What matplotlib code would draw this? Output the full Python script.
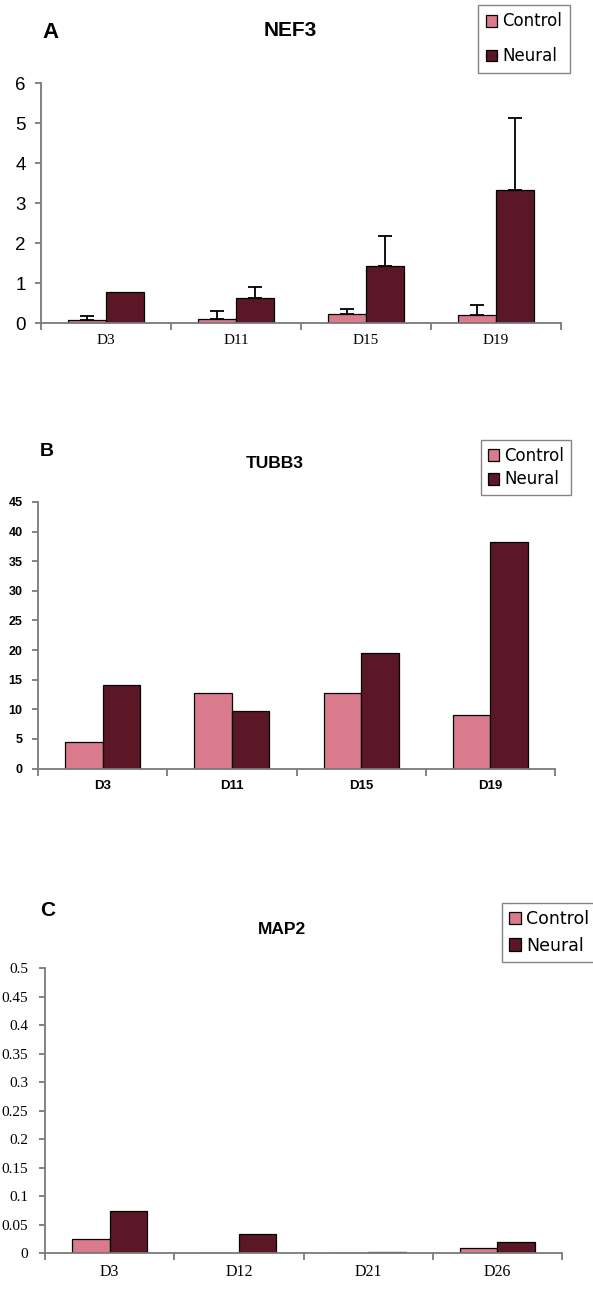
import matplotlib
matplotlib.use("Agg")
import matplotlib.pyplot as plt
import numpy as np

# NEF3 relative expression (mean and upper error)
nef3_days = ["D3", "D11", "D15", "D19"]
nef3_control = [0.08, 0.11, 0.22, 0.21]
nef3_neural = [0.78, 0.64, 1.44, 3.33]
nef3_control_err = [0.10, 0.20, 0.13, 0.25]
nef3_neural_err = [0.0, 0.26, 0.74, 1.79]

# TUBB3 relative expression
tubb3_days = ["D3", "D11", "D15", "D19"]
tubb3_control = [4.5, 12.8, 12.8, 9.0]
tubb3_neural = [14.1, 9.7, 19.5, 38.3]

# MAP2 relative expression
map2_days = ["D3", "D12", "D21", "D26"]
map2_control = [0.025, 0.0, 0.0, 0.009]
map2_neural = [0.074, 0.034, 0.003, 0.019]

CONTROL = "#d97a8d"
NEURAL = "#5c1726"
AXIS = "#7a7a7a"

W, H = 593, 1289
fig = plt.figure(figsize=(W / 100, H / 100), dpi=100)


def px_axes(x0, y0, x1, y1):
    # axes box given in pixel coords (top-left origin)
    return fig.add_axes([x0 / W, 1 - y1 / H, (x1 - x0) / W, (y1 - y0) / H])


def up_errors(ax, xs, tops, errs):
    # one-sided (upper) error bars, skipped where there is none
    for xi, top, e in zip(xs, tops, errs):
        if e > 0:
            ax.errorbar(xi, top, yerr=[[0], [e]], fmt="none", ecolor="black",
                        elinewidth=1.3, capsize=5, capthick=1.3)


def bar_panel(ax, days, control, neural, ymax, yticks, tick_font, xtick_font,
              control_err=None, neural_err=None):
    x = np.arange(len(days))
    w = 0.29
    bc = ax.bar(x - w / 2, control, w, color=CONTROL, edgecolor="black",
                linewidth=0.9, label="Control")
    bn = ax.bar(x + w / 2, neural, w, color=NEURAL, edgecolor="black",
                linewidth=0.9, label="Neural")
    if control_err is not None:
        up_errors(ax, x - w / 2, control, control_err)
    if neural_err is not None:
        up_errors(ax, x + w / 2, neural, neural_err)
    ax.set_xlim(-0.5, len(days) - 0.5)
    ax.set_ylim(0, ymax)
    ax.set_yticks(yticks)
    for s in ["top", "right"]:
        ax.spines[s].set_visible(False)
    for s in ["left", "bottom"]:
        ax.spines[s].set_color(AXIS)
        ax.spines[s].set_linewidth(1.3)
    ax.set_xticks(x)
    ax.set_xticklabels(days)
    ax.set_xticks(np.arange(len(days) + 1) - 0.5, minor=True)
    ax.tick_params(axis="x", which="major", length=0, pad=8)
    ax.tick_params(axis="x", which="minor", length=5, color=AXIS, width=1.3)
    ax.tick_params(axis="y", length=4, color=AXIS, width=1.3, pad=7)
    for t in ax.get_yticklabels():
        t.set(**tick_font)
    for t in ax.get_xticklabels():
        t.set(**xtick_font)
    return bc, bn


def panel_legend(ax, handles, x0, y0, fs, spacing, bpad=0.4):
    leg = ax.legend(handles, ["Control", "Neural"], loc="upper left",
                    bbox_to_anchor=(x0 / W, 1 - y0 / H),
                    bbox_transform=fig.transFigure, fontsize=fs,
                    frameon=True, fancybox=False, edgecolor="#666666",
                    handlelength=0.7, handleheight=0.7, handletextpad=0.3,
                    labelspacing=spacing, borderpad=bpad, borderaxespad=0)
    leg.get_frame().set_linewidth(1.0)


# ---- A: NEF3 ----
axA = px_axes(41, 83.3, 561, 323.3)
hA = bar_panel(axA, nef3_days, nef3_control, nef3_neural, 6, range(0, 7),
               dict(fontsize=13.5, family="Liberation Sans"),
               dict(fontsize=11, family="Liberation Serif"),
               nef3_control_err, nef3_neural_err)
fig.text(290 / W, 1 - 30 / H, "NEF3", ha="center", va="center",
         fontsize=15, fontweight="bold", family="Liberation Sans")
fig.text(42 / W, 1 - 33 / H, "A", ha="left", va="center",
         fontsize=16, fontweight="bold", family="Liberation Sans")
panel_legend(axA, hA, 478, 5, 12, 1.0, bpad=0.45)

# ---- B: TUBB3 ----
axB = px_axes(38, 502, 555, 768.5)
hB = bar_panel(axB, tubb3_days, tubb3_control, tubb3_neural, 45,
               range(0, 46, 5),
               dict(fontsize=9, fontweight="bold", family="Liberation Sans"),
               dict(fontsize=9.5, fontweight="bold", family="Liberation Sans"))
fig.text(275 / W, 1 - 464 / H, "TUBB3", ha="center", va="center",
         fontsize=12.5, fontweight="bold", family="Liberation Sans")
fig.text(40 / W, 1 - 451 / H, "B", ha="left", va="center",
         fontsize=14, fontweight="bold", family="Liberation Sans")
panel_legend(axB, hB, 481, 440, 12, 0.35)

# ---- C: MAP2 ----
axC = px_axes(45, 968.3, 562, 1253.3)
hC = bar_panel(axC, map2_days, map2_control, map2_neural, 0.5,
               np.arange(0, 0.51, 0.05),
               dict(fontsize=11, family="Liberation Serif"),
               dict(fontsize=11.5, family="Liberation Serif"))
axC.yaxis.set_major_formatter(
    matplotlib.ticker.FuncFormatter(lambda v, p: f"{v:.2f}".rstrip("0").rstrip(".") if v else "0"))
axC.tick_params(axis="y", pad=8)
fig.text(282 / W, 1 - 930 / H, "MAP2", ha="center", va="center",
         fontsize=12.5, fontweight="bold", family="Liberation Sans")
fig.text(40 / W, 1 - 911 / H, "C", ha="left", va="center",
         fontsize=15, fontweight="bold", family="Liberation Sans")
panel_legend(axC, hC, 502, 903, 12.5, 0.5)

fig.savefig("out.png", dpi=100)
